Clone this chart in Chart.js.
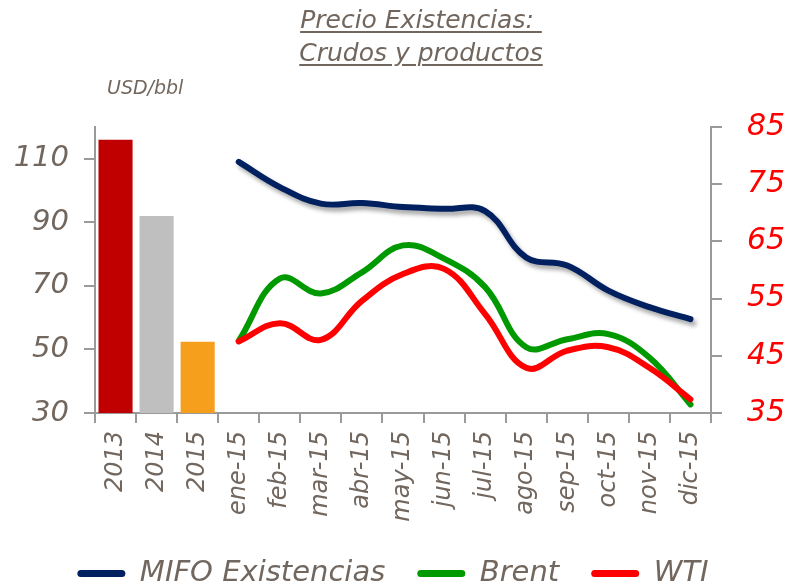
<!DOCTYPE html>
<html>
<head>
<meta charset="utf-8">
<script src="https://cdn.jsdelivr.net/npm/chart.js@4.4.1/dist/chart.umd.min.js"></script>
<style>
  body { margin: 0; background: #fff; }
  .wrap { position: relative; width: 786px; height: 585px; }
  .title {
    position: absolute; left: 260px; width: 322px; top: 3px;
    text-align: center; font-family: 'DejaVu Sans', sans-serif; font-style: italic;
    font-size: 25px; line-height: 33px; color: #72675e; text-decoration: underline;
    text-decoration-thickness: 2px; text-underline-offset: 3px;
  }
  .unit {
    position: absolute; left: 107px; top: 76px;
    font-family: 'DejaVu Sans', sans-serif; font-style: italic; font-size: 19px; color: #72675e;
  }
</style>
</head>
<body>
<div class="wrap">
  <canvas id="c" width="786" height="585"></canvas>
  <div class="title">Precio Existencias:&nbsp;<br>Crudos y productos</div>
  <div class="unit">USD/bbl</div>
</div>
<script>
const labels = ['2013', '2014', '2015', 'ene-15', 'feb-15', 'mar-15', 'abr-15', 'may-15', 'jun-15',
  'jul-15', 'ago-15', 'sep-15', 'oct-15', 'nov-15', 'dic-15'];
const annualValues = [116, 92, 52.4, null, null, null, null, null, null, null, null, null, null, null, null];
const annualColors = ['#c00000', '#bfbfbf', '#f59f1d'];
const mifo = [null, null, null, 78.9, 74.5, 71.6, 71.7, 71.0, 70.7, 70.3, 62.2, 60.8, 56.4, 53.5, 51.4];
const brent = [null, null, null, 47.6, 58.5, 55.9, 59.6, 64.3, 62.0, 57.0, 46.5, 47.9, 48.8, 44.7, 36.5];
const wti = [null, null, null, 47.5, 50.7, 47.8, 54.6, 59.3, 60.2, 52.3, 42.9, 45.9, 46.5, 42.9, 37.4];
const leftTicks = [30, 50, 70, 90, 110];
const rightTicks = [35, 45, 55, 65, 75, 85];

const textGray = '#72675e';
const axisGray = '#9a9a9a';
const font = 'DejaVu Sans';

// drop shadow under the MIFO line
const shadowPlugin = {
  id: 'lineShadow',
  beforeDatasetDraw(chart, args) {
    if (args.index !== 1) return;
    const ctx = chart.ctx;
    ctx.save();
    ctx.shadowColor = 'rgba(0,0,0,0.35)';
    ctx.shadowBlur = 4;
    ctx.shadowOffsetX = 3;
    ctx.shadowOffsetY = 4;
  },
  afterDatasetDraw(chart, args) {
    if (args.index !== 1) return;
    chart.ctx.restore();
  }
};

const lineStyle = (color) => ({
  borderColor: color,
  backgroundColor: color,
  borderWidth: 6,
  pointRadius: 0,
  tension: 0.4,
  borderCapStyle: 'round',
  fill: false,
  yAxisID: 'yRight'
});

new Chart(document.getElementById('c'), {
  data: {
    labels: labels,
    datasets: [
      {
        type: 'bar', label: 'Anual', data: annualValues, backgroundColor: annualColors,
        yAxisID: 'yLeft', barPercentage: 0.83, categoryPercentage: 1, order: 3
      },
      Object.assign({ type: 'line', label: 'MIFO Existencias', data: mifo, order: 2 }, lineStyle('#002060')),
      Object.assign({ type: 'line', label: 'Brent', data: brent, order: 1 }, lineStyle('#009900')),
      Object.assign({ type: 'line', label: 'WTI', data: wti, order: 0 }, lineStyle('#ff0000'))
    ]
  },
  options: {
    responsive: false,
    animation: false,
    layout: { padding: { top: 127, left: 0, right: 0, bottom: -13 } },
    plugins: {
      tooltip: { enabled: false },
      title: { display: false },
      legend: {
        position: 'bottom',
        labels: {
          boxWidth: 48,
          boxHeight: 7,
          useBorderRadius: true,
          borderRadius: 3.5,
          padding: 32,
          color: textGray,
          font: { family: font, size: 29, style: 'italic' },
          sort: (a, b) => a.datasetIndex - b.datasetIndex,
          generateLabels(chart) {
            return Chart.defaults.plugins.legend.labels.generateLabels(chart)
              .filter(l => l.datasetIndex > 0)
              .map(l => Object.assign(l, { lineWidth: 0, fillStyle: l.strokeStyle }));
          }
        }
      }
    },
    scales: {
      x: {
        offset: true,
        afterFit(scale) { scale.height = 114; },
        grid: { display: true, drawOnChartArea: false, drawTicks: true, tickLength: 10, color: axisGray, lineWidth: 2, offset: true },
        border: { display: true, color: axisGray, width: 2 },
        ticks: {
          minRotation: 90, maxRotation: 90, autoSkip: false, padding: 8,
          color: textGray, font: { family: font, size: 24, style: 'italic' }
        }
      },
      yLeft: {
        position: 'left',
        min: 30, max: 120,
        afterFit(scale) { scale.width = 95; },
        afterBuildTicks(scale) { scale.ticks = leftTicks.map(v => ({ value: v })); },
        grid: { display: true, drawOnChartArea: false, drawTicks: true, tickLength: 11, color: axisGray, lineWidth: 2 },
        border: { display: true, color: axisGray, width: 2 },
        ticks: { padding: 15, color: textGray, font: { family: font, size: 29, style: 'italic' } }
      },
      yRight: {
        position: 'right',
        min: 35, max: 85,
        afterFit(scale) { scale.width = 75; },
        afterBuildTicks(scale) { scale.ticks = rightTicks.map(v => ({ value: v })); },
        grid: { display: true, drawOnChartArea: false, drawTicks: true, tickLength: 11, color: axisGray, lineWidth: 2 },
        border: { display: true, color: axisGray, width: 2 },
        ticks: { padding: 25, color: '#ff0000', font: { family: font, size: 30, style: 'italic' } }
      }
    }
  },
  plugins: [shadowPlugin]
});
</script>
</body>
</html>
